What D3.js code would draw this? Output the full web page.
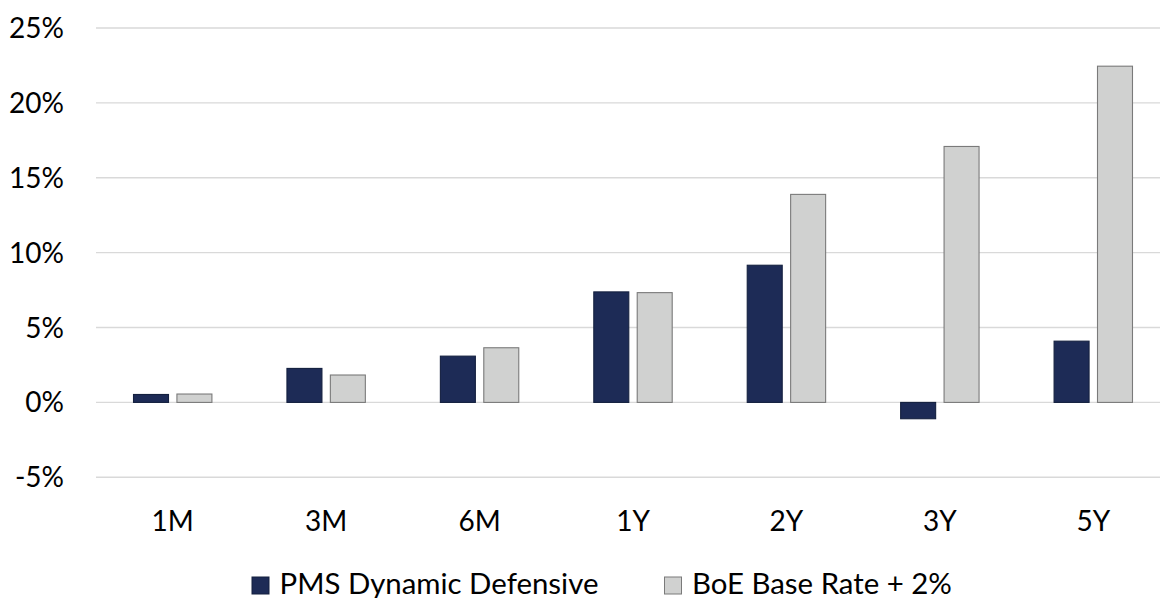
<!DOCTYPE html>
<html>
<head>
<meta charset="utf-8">
<script src="https://cdn.jsdelivr.net/npm/d3@7"></script>
<style>
  html, body { margin: 0; padding: 0; background: #fff; }
  svg { display: block; }
  text { font-family: Lato, "Open Sans", sans-serif; fill: #000; }
</style>
</head>
<body>
<svg id="chart" width="1160" height="598"></svg>
<script>
const categories = ["1M", "3M", "6M", "1Y", "2Y", "3Y", "5Y"];
const seriesNames = ["PMS Dynamic Defensive", "BoE Base Rate + 2%"];
const pmsValues = [0.53, 2.27, 3.09, 7.38, 9.16, -1.09, 4.09];
const boeValues = [0.56, 1.83, 3.65, 7.33, 13.89, 17.09, 22.45];
const yTicks = [-5, 0, 5, 10, 15, 20, 25];
const colors = ["#1d2b56", "#d0d1d0"];
const strokes = ["#14203f", "#7a7a7a"];

const svg = d3.select("#chart");
const plotLeft = 96, plotRight = 1170, plotTop = 28, plotBottom = 477.3;

const x0 = d3.scaleBand().domain(categories).range([plotLeft, plotRight])
  .paddingInner(0.489).paddingOuter(0.2445);
const x1 = d3.scaleBand().domain(seriesNames).range([0, x0.bandwidth()])
  .paddingInner(0.194).paddingOuter(0);
const y = d3.scaleLinear().domain([-5, 25]).range([plotBottom, plotTop]);

// gridlines
svg.append("g").selectAll("line").data(yTicks).join("line")
  .attr("x1", plotLeft).attr("x2", plotRight)
  .attr("y1", d => y(d)).attr("y2", d => y(d))
  .attr("stroke", "#d9d9d9").attr("stroke-width", 1.4);

// y labels
svg.append("g").selectAll("text").data(yTicks).join("text")
  .attr("x", 64).attr("y", d => y(d) + 10)
  .attr("text-anchor", "end").attr("font-size", 28)
  .text(d => d + "%");

// bars
const rows = categories.map((c, i) => ({ cat: c, vals: [pmsValues[i], boeValues[i]] }));
const groups = svg.append("g").selectAll("g").data(rows).join("g")
  .attr("transform", d => `translate(${x0(d.cat)},0)`);
groups.selectAll("rect").data(d => d.vals.map((v, j) => ({ v, j }))).join("rect")
  .attr("x", d => x1(seriesNames[d.j]))
  .attr("width", x1.bandwidth())
  .attr("y", d => Math.min(y(d.v), y(0)))
  .attr("height", d => Math.abs(y(d.v) - y(0)))
  .attr("fill", d => colors[d.j])
  .attr("stroke", d => strokes[d.j])
  .attr("stroke-width", 1.1);

// x labels
svg.append("g").selectAll("text").data(categories).join("text")
  .attr("x", d => x0(d) + x0.bandwidth() / 2).attr("y", 531)
  .attr("text-anchor", "middle").attr("font-size", 28)
  .text(d => d);

// legend
const legendX = [252, 664.5];
const leg = svg.append("g").selectAll("g").data(seriesNames).join("g")
  .attr("transform", (d, i) => `translate(${legendX[i]},0)`);
leg.append("rect").attr("x", 0).attr("y", 577).attr("width", 17).attr("height", 17)
  .attr("fill", (d, i) => colors[i]).attr("stroke", (d, i) => strokes[i]).attr("stroke-width", 1);
leg.append("text").attr("x", 27.5).attr("y", 593.5).attr("font-size", 29.4).text(d => d);
</script>
</body>
</html>
